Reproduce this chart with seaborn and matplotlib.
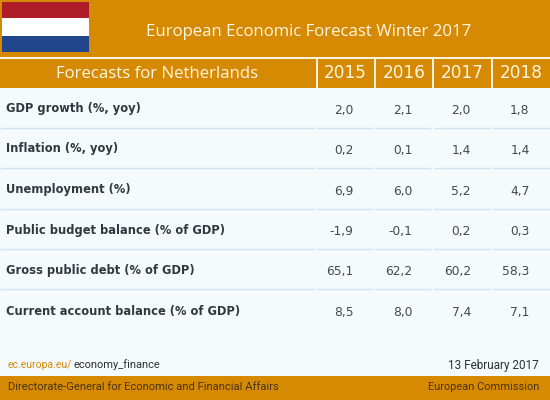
import numpy as np
import pandas as pd
import seaborn as sns
import matplotlib
matplotlib.use("Agg")
import matplotlib.pyplot as plt
from matplotlib.colors import ListedColormap
from matplotlib.patches import Rectangle

years = ["2015", "2016", "2017", "2018"]
indicators = ["GDP growth (%, yoy)", "Inflation (%, yoy)", "Unemployment (%)",
              "Public budget balance (% of GDP)", "Gross public debt (% of GDP)",
              "Current account balance (% of GDP)"]
v2015 = [2.0, 0.2, 6.9, -1.9, 65.1, 8.5]
v2016 = [2.1, 0.1, 6.0, -0.1, 62.2, 8.0]
v2017 = [2.0, 1.4, 5.2, 0.2, 60.2, 7.4]
v2018 = [1.8, 1.4, 4.7, 0.3, 58.3, 7.1]
title = "European Economic Forecast Winter 2017"
heading = "Forecasts for Netherlands"

ORANGE = "#d68a04"; PALE = "#f5fafd"; LINE = "#cfe5ef"; DARK = "#3a4048"; CREAM = "#fff6e2"
sns.set_theme(style="white")
plt.rcParams["font.family"] = ["DejaVu Sans"]
W, H = 550, 400
TOP, BOTTOM = 88, 329
fig = plt.figure(figsize=(5.5, 4), dpi=100, facecolor=PALE)
bg = fig.add_axes([0, 0, 1, 1]); bg.set_xlim(0, W); bg.set_ylim(H, 0); bg.axis("off")
def rect(x, y, w, h, c, z=1):
    bg.add_patch(Rectangle((x, y), w, h, fc=c, ec="none", zorder=z))
rect(0, 0, W, 57, ORANGE); rect(0, 59, W, 29, ORANGE)
rect(0, 57, W, 2, "#fdf3dc")
rect(2, 2, 87, 16, "#ae1c28"); rect(2, 18, 87, 18, "white"); rect(2, 36, 87, 16, "#21468b")
for x in [316, 374, 432, 491]:
    rect(x, 58, 2, 30, "#fdf3dc")
rect(0, 376, W, 24, ORANGE)
bg.text(309, 32.5, title, color=CREAM, fontsize=12.1, family="Open Sans", ha="center", va="center")
bg.text(157.5, 74, heading, color=CREAM, fontsize=12.1, family="Open Sans", ha="center", va="center")
for x, y in zip([345, 404, 462.5, 521.5], years):
    bg.text(x, 73.5, y, color=CREAM, fontsize=12.2, family="DejaVu Sans", ha="center", va="center")
bg.text(8, 365, "ec.europa.eu/", color="#d68a04", fontsize=7.5, family="Roboto", va="center")
bg.text(73, 365, "economy_finance", color="#2b2f36", fontsize=7.9, family="Roboto", va="center")
bg.text(539, 365, "13 February 2017", color="#2b2f36", fontsize=8.5, family="Roboto", ha="right", va="center")
bg.text(8, 387, "Directorate-General for Economic and Financial Affairs", color="#4a3410", fontsize=8.1, family="Roboto", va="center")
bg.text(539, 387, "European Commission", color="#4a3410", fontsize=7.9, family="Roboto", ha="right", va="center")

df = pd.DataFrame({"2015": v2015, "2016": v2016, "2017": v2017, "2018": v2018}, index=indicators)
labels = df.map(lambda v: f"{v:.1f}".replace(".", ","))

# value cells: a seaborn heatmap in one constant colour
CW = (W - 318) / 4
axv = fig.add_axes([318 / W, 1 - BOTTOM / H, (W - 318) / W, (BOTTOM - TOP) / H])
sns.heatmap(df, ax=axv, cbar=False, cmap=ListedColormap([PALE]), annot=labels, fmt="",
            annot_kws={"color": "#44494f", "fontsize": 8.8}, linewidths=0, xticklabels=False, yticklabels=False)
axv.set_ylabel(""); axv.set_xlabel("")
RH = (BOTTOM - TOP) / len(indicators)
for t in axv.texts:
    x, y = t.get_position()
    row, col = int(y), int(x)
    t.set_ha("right")
    t.set_position((x + (6.5 + col * 0.7) / CW, y + (2 + row * 0.3) / RH))

# row labels and separators, drawn over the heatmap
ax = fig.add_axes([0, 1 - BOTTOM / H, 1, (BOTTOM - TOP) / H]); ax.patch.set_alpha(0)
ax.set_xlim(0, W); ax.set_ylim(len(indicators), 0); ax.axis("off"); ax.set_zorder(5)
segments = [(0, 314.5), (317, 373), (375, 431), (434, 491), (493, W)]
for i, name in enumerate(indicators):
    ax.text(6.5, i + 0.5 + (i * 0.5) / RH, name, color="#33383f", fontsize=8.3, fontweight="bold",
            va="center", family="DejaVu Sans")
    if i < len(indicators) - 1:
        for a, b in segments:
            ax.hlines(i + 1, a, b, color=LINE, lw=1)
fig.savefig("out.png", dpi=100, facecolor=PALE)
